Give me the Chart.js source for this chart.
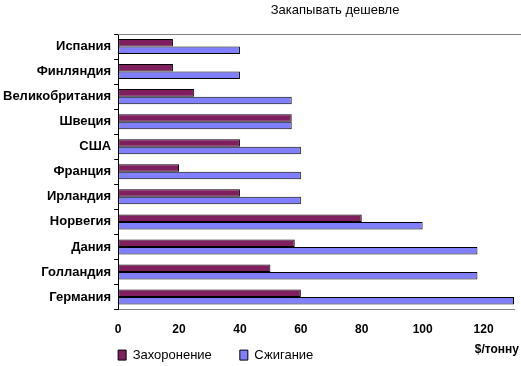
<!DOCTYPE html>
<html>
<head>
<meta charset="utf-8">
<script src="https://cdn.jsdelivr.net/npm/chart.js@4.4.0/dist/chart.umd.min.js"></script>
<style>
  html, body { margin: 0; padding: 0; background: #fff; }
  #wrap { width: 521px; height: 366px; }
</style>
</head>
<body>
<div id="wrap"><canvas id="graphique"></canvas></div>
<script>
// countries, top to bottom
var countries = ["Испания", "Финляндия", "Великобритания", "Швеция", "США", "Франция",
  "Ирландия", "Норвегия", "Дания", "Голландия", "Германия"];
// $/tonne
var burial = [18, 18, 25, 57, 40, 20, 40, 80, 58, 50, 60];
var incineration = [40, 40, 57, 57, 60, 60, 60, 100, 118, 118, 130];
var seriesNames = ["Захоронение", "Сжигание"];
var xTicks = [0, 20, 40, 60, 80, 100, 120];
var chartTitle = "Закапывать дешевле";
var unitLabel = "$/тонну";

var extras = {
  id: "extras",
  afterLayout: function (chart) {
    // put the legend just under the tick labels, starting under the plot area
    var lg = chart.legend;
    var h = lg.height;
    lg.left = chart.chartArea.left - 28;
    lg.top = chart.chartArea.bottom + 11;
    lg.bottom = lg.top + h;
  },
  afterDraw: function (chart) {
    var ctx = chart.ctx;
    var area = chart.chartArea;
    ctx.save();
    // grey frame line on top of plot
    ctx.strokeStyle = "#808080";
    ctx.lineWidth = 1;
    ctx.beginPath();
    ctx.moveTo(area.left, area.top + 0.5);
    ctx.lineTo(chart.width, area.top + 0.5);
    ctx.stroke();
    ctx.fillStyle = "#000";
    ctx.font = "13px 'Liberation Sans', Arial, sans-serif";
    ctx.textAlign = "center";
    ctx.textBaseline = "middle";
    ctx.fillText(chartTitle, (area.left + area.right) / 2 + 19, 10);
    ctx.font = "bold 12px 'Liberation Sans', Arial, sans-serif";
    ctx.textAlign = "right";
    ctx.fillText(unitLabel, chart.width - 2, area.bottom + 40);
    ctx.restore();
  }
};

new Chart(document.getElementById("graphique"), {
  type: "bar",
  data: {
    labels: countries,
    datasets: [
      {
        label: seriesNames[0],
        data: burial,
        backgroundColor: "#801f5f",
        borderColor: "#000",
        borderWidth: 1,
        borderSkipped: false
      },
      {
        label: seriesNames[1],
        data: incineration,
        backgroundColor: "#8080ff",
        borderColor: "#000",
        borderWidth: 1,
        borderSkipped: false
      }
    ]
  },
  options: {
    indexAxis: "y",
    responsive: true,
    maintainAspectRatio: false,
    animation: false,
    categoryPercentage: 0.6,
    barPercentage: 1,
    layout: { padding: { top: 34, right: 7, left: 0, bottom: -35 } },
    scales: {
      x: {
        min: 0,
        max: 130,
        afterBuildTicks: function (scale) {
          scale.ticks = xTicks.map(function (v) { return { value: v }; });
        },
        grid: { display: false, drawTicks: false, tickLength: 0 },
        border: { display: true, color: "#808080", width: 1 },
        ticks: {
          color: "#000",
          padding: 13,
          maxRotation: 0,
          font: { family: "'Liberation Sans', Arial, sans-serif", size: 12, weight: "bold" }
        }
      },
      y: {
        grid: { display: true, drawOnChartArea: false, tickLength: 4, color: "#000" },
        border: { display: true, color: "#000", width: 1 },
        ticks: {
          color: "#000",
          padding: 3,
          font: { family: "'Liberation Sans', Arial, sans-serif", size: 13, weight: "bold" }
        }
      }
    },
    plugins: {
      title: { display: false },
      tooltip: { enabled: false },
      legend: {
        position: "bottom",
        align: "start",
        labels: {
          color: "#000",
          boxWidth: 8,
          boxHeight: 10,
          padding: 28,
          font: { family: "'Liberation Sans', Arial, sans-serif", size: 13 }
        }
      }
    }
  },
  plugins: [extras]
});
</script>
</body>
</html>
